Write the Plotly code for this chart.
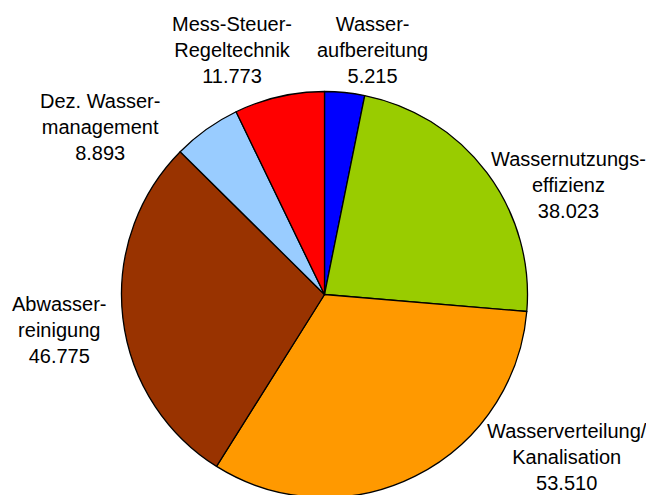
import plotly.graph_objects as go

# Fördervolumen nach Technologiefeld
data = {
    'Wasser-<br>aufbereitung': 5215,
    'Wassernutzungs-<br>effizienz': 38023,
    'Wasserverteilung/<br>Kanalisation': 53510,
    'Abwasser-<br>reinigung': 46775,
    'Dez. Wasser-<br>management': 8893,
    'Mess-Steuer-<br>Regeltechnik': 11773,
}
colors = ['#0000FF', '#99CC00', '#FF9900', '#993300', '#99CCFF', '#FF0000']

# label positions (paper coords)
label_pos = [
    (0.5581, 0.9152),
    (0.8565, 0.6424),
    (0.8555, 0.0929),
    (0.0780, 0.3495),
    (0.1407, 0.7596),
    (0.3425, 0.9152),
]


def fmt(v):
    return f"{v:,}".replace(',', '.')


fig = go.Figure()
fig.add_pie(
    labels=list(data.keys()),
    values=list(data.values()),
    sort=False,
    direction='clockwise',
    rotation=0,
    textinfo='none',
    hoverinfo='label+value',
    marker=dict(colors=colors, line=dict(color='black', width=1.3)),
    domain=dict(x=[0.1735, 0.7944], y=[0.0111, 0.8313]),
    showlegend=False,
)

for (lbl, val), (x, y) in zip(data.items(), label_pos):
    fig.add_annotation(
        x=x, y=y, xref='paper', yref='paper',
        text=f"{lbl}<br>{fmt(val)}",
        showarrow=False,
        xanchor='center', yanchor='middle',
        align='center',
    )

fig.update_layout(
    width=654,
    height=495,
    margin=dict(l=0, r=0, t=0, b=0),
    paper_bgcolor='white',
    plot_bgcolor='white',
    font=dict(family='Liberation Sans, Arial', size=20, color='black'),
)

fig.write_html("out.html")
